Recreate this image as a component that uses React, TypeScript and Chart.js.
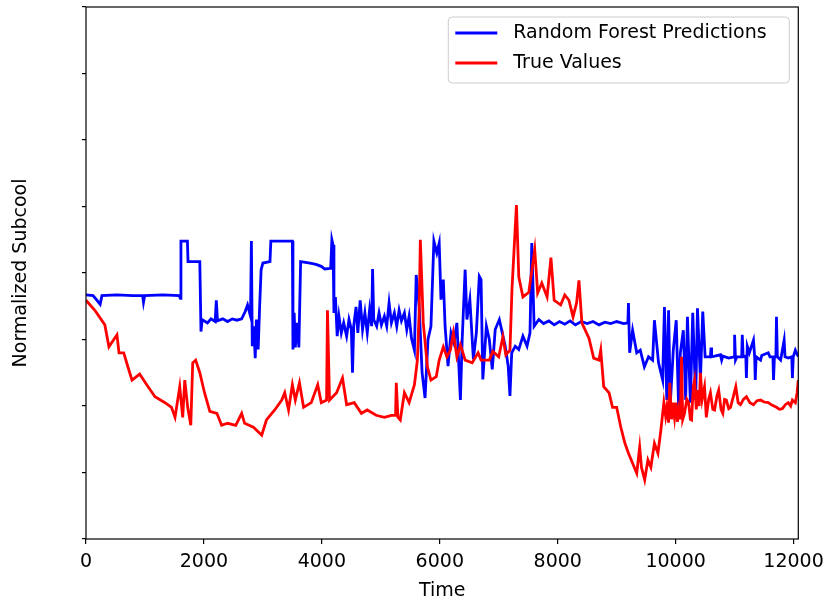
import React, { useEffect, useRef } from 'react'
import Chart from 'chart.js/auto'

// Random Forest predictions (time, normalized subcool)
const predTime = [
    0, 120, 240, 270, 520, 800, 960, 975, 995, 1300, 1580, 1600, 1610, 1720, 1730, 1930, 1950, 1970, 2060, 2120,
    2190, 2210, 2230, 2320, 2400, 2480, 2560, 2640, 2700, 2740, 2790, 2805, 2820, 2845, 2870, 2890, 2920, 2945, 2970, 3000,
    3120, 3135, 3500, 3510, 3530, 3550, 3580, 3610, 3640, 3800, 3900, 3990, 4050, 4150, 4170, 4190, 4205, 4230, 4260, 4290,
    4330, 4370, 4420, 4460, 4500, 4520, 4540, 4580, 4610, 4650, 4690, 4730, 4770, 4810, 4845, 4860, 4880, 4930, 4970, 5010,
    5060, 5100, 5140, 5180, 5230, 5270, 5310, 5350, 5400, 5440, 5480, 5520, 5570, 5600, 5650, 5700, 5750, 5800, 5850, 5900,
    5950, 5990, 6020, 6060, 6090, 6140, 6190, 6240, 6290, 6350, 6380, 6430, 6460, 6510, 6570, 6620, 6670, 6700, 6730, 6790,
    6840, 6890, 6940, 7010, 7060, 7110, 7160, 7190, 7220, 7280, 7340, 7410, 7480, 7530, 7560, 7600, 7680, 7760, 7850, 7940,
    8030, 8120, 8210, 8300, 8400, 8500, 8600, 8700, 8800, 8900, 9000, 9120, 9190, 9200, 9220, 9270, 9340, 9400, 9470, 9540,
    9610, 9640, 9710, 9780, 9810, 9850, 9880, 9910, 9960, 10010, 10050, 10080, 10130, 10170, 10200, 10250, 10290, 10340, 10370, 10420,
    10460, 10500, 10590, 10600, 10610, 10760, 10780, 10800, 10900, 10990, 11000, 11015, 11040, 11120, 11130, 11145, 11190, 11200, 11215, 11250,
    11320, 11340, 11350, 11365, 11440, 11460, 11570, 11600, 11650, 11660, 11675, 11700, 11710, 11725, 11780, 11840, 11855, 11910, 11970, 11980,
    11995, 12030, 12080
]
const predValues = [
    3.67, 3.66, 3.53, 3.66, 3.67, 3.66, 3.66, 3.56, 3.66, 3.67, 3.66, 3.62, 4.48, 4.48, 4.17, 4.17, 3.12, 3.30, 3.25, 3.31,
    3.27, 3.59, 3.28, 3.31, 3.27, 3.31, 3.29, 3.31, 3.42, 3.52, 3.35, 4.48, 2.90, 3.20, 2.72, 3.30, 2.85, 3.50, 4.05, 4.15,
    4.17, 4.48, 4.48, 2.85, 3.40, 2.88, 3.25, 2.88, 4.17, 4.15, 4.13, 4.10, 4.06, 4.07, 4.50, 4.42, 3.40, 3.64, 3.05, 3.35,
    3.10, 3.25, 3.05, 3.30, 3.15, 2.50, 3.20, 3.49, 3.10, 3.59, 3.15, 3.40, 3.10, 3.45, 3.20, 4.06, 3.30, 3.20, 3.40, 3.22,
    3.35, 3.20, 3.55, 3.25, 3.40, 3.20, 3.44, 3.28, 3.40, 3.15, 3.35, 3.02, 2.84, 3.97, 3.50, 2.50, 2.12, 3.00, 3.20, 4.48,
    4.30, 4.45, 3.60, 3.90, 3.20, 2.60, 3.10, 2.95, 3.25, 2.09, 3.00, 4.05, 3.30, 3.60, 2.70, 3.10, 3.95, 3.90, 2.40, 3.20,
    3.00, 2.55, 3.15, 3.30, 3.10, 2.90, 2.60, 2.15, 2.80, 2.90, 2.85, 3.05, 2.90, 3.10, 4.45, 3.20, 3.30, 3.24, 3.28, 3.22,
    3.27, 3.23, 3.28, 3.22, 3.27, 3.24, 3.27, 3.22, 3.26, 3.24, 3.27, 3.24, 3.25, 3.55, 2.80, 3.14, 2.80, 2.84, 2.59, 2.74,
    2.69, 3.29, 2.65, 2.39, 3.49, 2.09, 3.44, 2.05, 2.84, 3.29, 1.98, 2.80, 3.14, 2.09, 3.34, 2.05, 3.40, 2.09, 3.47, 2.39,
    3.42, 2.74, 2.74, 2.88, 2.74, 2.77, 2.69, 2.75, 2.72, 2.74, 3.07, 2.69, 2.74, 2.74, 3.07, 2.74, 2.75, 2.42, 2.90, 2.80,
    2.99, 2.74, 2.39, 2.74, 2.69, 2.76, 2.80, 2.74, 2.74, 2.39, 2.74, 2.74, 3.34, 2.74, 2.69, 2.99, 2.74, 2.72, 2.74, 2.42,
    2.74, 2.84, 2.74
]

// True values (time, normalized subcool)
const trueTime = [
    0, 150, 320, 389, 525, 560, 640, 710, 780, 910, 1030, 1170, 1340, 1450, 1510, 1590, 1640, 1675, 1725, 1777,
    1810, 1860, 1930, 2010, 2100, 2220, 2300, 2400, 2540, 2640, 2690, 2840, 2980, 3060, 3200, 3320, 3370, 3435, 3500, 3550,
    3620, 3690, 3820, 3930, 3990, 4080, 4095, 4130, 4250, 4350, 4420, 4550, 4670, 4770, 4920, 5060, 5180, 5250, 5262, 5290,
    5330, 5400, 5480, 5570, 5620, 5650, 5670, 5720, 5790, 5850, 5940, 5990, 6060, 6120, 6180, 6230, 6290, 6350, 6430, 6550,
    6650, 6700, 6840, 6900, 7000, 7070, 7120, 7190, 7225, 7300, 7340, 7410, 7510, 7610, 7660, 7730, 7820, 7885, 7940, 8050,
    8120, 8190, 8260, 8320, 8360, 8410, 8530, 8610, 8700, 8730, 8780, 8870, 8930, 9000, 9070, 9140, 9200, 9270, 9340, 9390,
    9420, 9475, 9530, 9580, 9640, 9700, 9750, 9800, 9830, 9850, 9880, 9900, 9930, 9950, 9980, 10000, 10030, 10050, 10080, 10100,
    10120, 10150, 10190, 10220, 10250, 10270, 10300, 10320, 10350, 10370, 10400, 10420, 10450, 10490, 10520, 10560, 10590, 10630, 10660, 10700,
    10730, 10770, 10800, 10830, 10860, 10900, 10930, 10980, 11020, 11060, 11100, 11150, 11200, 11260, 11320, 11380, 11440, 11500, 11570, 11640,
    11710, 11760, 11810, 11860, 11910, 11950, 11980, 12030, 12060, 12080
]
const trueValues = [
    3.59, 3.44, 3.22, 2.89, 3.07, 2.80, 2.80, 2.59, 2.39, 2.48, 2.32, 2.14, 2.05, 1.98, 1.83, 2.29, 1.83, 2.39, 1.98, 1.71,
    2.65, 2.69, 2.50, 2.20, 1.92, 1.89, 1.71, 1.74, 1.71, 1.89, 1.74, 1.68, 1.56, 1.79, 1.94, 2.09, 2.20, 1.94, 2.32, 2.09,
    2.35, 1.98, 2.05, 2.32, 2.05, 2.09, 3.44, 2.09, 2.20, 2.42, 2.02, 2.05, 1.89, 1.94, 1.86, 1.83, 1.86, 1.86, 2.35, 1.83,
    1.79, 2.20, 2.05, 2.32, 2.69, 3.40, 4.50, 3.25, 2.59, 2.39, 2.44, 2.69, 2.89, 2.74, 2.84, 3.10, 2.74, 2.92, 2.69, 2.65,
    2.80, 2.69, 2.69, 2.82, 2.74, 3.04, 2.77, 2.84, 3.77, 5.02, 3.94, 3.64, 3.71, 4.35, 3.70, 3.85, 3.64, 4.23, 3.59, 3.52,
    3.67, 3.59, 3.34, 3.55, 3.89, 3.25, 3.02, 2.72, 2.69, 2.84, 2.29, 2.20, 1.98, 1.98, 1.68, 1.44, 1.29, 1.14, 0.99, 1.38,
    1.08, 0.89, 1.19, 1.08, 1.44, 1.29, 1.64, 2.05, 1.85, 1.98, 1.75, 2.35, 1.80, 2.05, 1.83, 2.05, 1.76, 1.95, 1.80, 2.74,
    1.80, 1.89, 2.10, 2.05, 1.80, 1.79, 2.30, 2.39, 1.95, 2.24, 2.00, 2.50, 2.10, 2.29, 1.83, 2.10, 2.20, 1.95, 1.94, 2.15,
    2.24, 1.95, 1.89, 2.10, 2.09, 1.96, 1.98, 2.15, 2.29, 2.05, 2.02, 2.10, 2.14, 2.05, 2.02, 2.08, 2.09, 2.06, 2.05, 2.01,
    1.98, 1.95, 1.96, 2.02, 2.05, 2.00, 2.09, 2.05, 2.20, 2.39
]

const seriesLabels = ['Random Forest Predictions', 'True Values']
const seriesColors = ['#0000ff', '#ff0000']

// axis ticks (y labels are hidden in the original)
const xTickValues = [0, 2000, 4000, 6000, 8000, 10000, 12000]
const yTickValues = [0, 1, 2, 3, 4, 5, 6, 7, 8]

const FONT = 'DejaVu Sans'

// matplotlib style frame + legend box in the upper right corner
const frameAndLegend = {
    id: 'frameAndLegend',
    afterDraw(chart: any) {
        const { ctx, chartArea: a } = chart
        ctx.save()
        ctx.strokeStyle = '#000'
        ctx.lineWidth = 1.2
        ctx.strokeRect(a.left, a.top, a.right - a.left, a.bottom - a.top)

        const boxW = 341
        const boxH = 66
        const bx = a.right - 9 - boxW
        const by = a.top + 10
        ctx.beginPath()
        ctx.roundRect(bx, by, boxW, boxH, 4)
        ctx.fillStyle = 'rgba(255,255,255,0.8)'
        ctx.fill()
        ctx.strokeStyle = '#cccccc'
        ctx.lineWidth = 1
        ctx.stroke()

        ctx.font = `19px "${FONT}"`
        ctx.textBaseline = 'middle'
        ctx.textAlign = 'left'
        chart.data.datasets.forEach((ds: any, i: number) => {
            const y = by + 16 + i * 30
            ctx.strokeStyle = ds.borderColor
            ctx.lineWidth = 2.8
            ctx.beginPath()
            ctx.moveTo(bx + 7, y)
            ctx.lineTo(bx + 49, y)
            ctx.stroke()
            ctx.fillStyle = '#000'
            ctx.fillText(ds.label, bx + 65, y)
        })
        ctx.restore()
    }
}

const App: React.FC = () => {
    const chartRef = useRef<HTMLCanvasElement>(null)
    const chartInstance = useRef<Chart | null>(null)

    useEffect(() => {
        if (!chartRef.current) return
        const ctx = chartRef.current.getContext('2d')
        if (!ctx) return
        if (chartInstance.current) chartInstance.current.destroy()

        chartInstance.current = new Chart(ctx, {
            type: 'line',
            data: {
                datasets: [
                    {
                        label: seriesLabels[0],
                        data: predTime.map((t, i) => ({ x: t, y: predValues[i] })),
                        borderColor: seriesColors[0],
                        borderWidth: 2.8,
                        pointRadius: 0,
                        tension: 0,
                        fill: false,
                        order: 2
                    },
                    {
                        label: seriesLabels[1],
                        data: trueTime.map((t, i) => ({ x: t, y: trueValues[i] })),
                        borderColor: seriesColors[1],
                        borderWidth: 2.8,
                        pointRadius: 0,
                        tension: 0,
                        fill: false,
                        order: 1
                    }
                ]
            },
            options: {
                animation: false,
                responsive: true,
                maintainAspectRatio: false,
                layout: { padding: { top: 7, right: 31, bottom: 0, left: 0 } },
                plugins: {
                    legend: { display: false },
                    tooltip: { enabled: false }
                },
                scales: {
                    x: {
                        type: 'linear',
                        min: 0,
                        max: 12080,
                        afterBuildTicks: (scale: any) => { scale.ticks = xTickValues.map(v => ({ value: v })) },
                        afterFit: (scale: any) => { scale.height = 67 },
                        border: { display: false },
                        grid: { drawOnChartArea: false, drawTicks: true, tickLength: 5, color: '#000', lineWidth: 1.2 },
                        ticks: {
                            autoSkip: false,
                            padding: 7,
                            maxRotation: 0,
                            color: '#000',
                            font: { family: FONT, size: 19 },
                            callback: (v: any) => String(v)
                        },
                        title: {
                            display: true,
                            text: 'Time',
                            color: '#000',
                            font: { family: FONT, size: 19 },
                            padding: { top: 0, bottom: 4 }
                        }
                    },
                    y: {
                        min: 0,
                        max: 8,
                        afterBuildTicks: (scale: any) => { scale.ticks = yTickValues.map(v => ({ value: v })) },
                        afterFit: (scale: any) => { scale.width = 86 },
                        border: { display: false },
                        grid: { drawOnChartArea: false, drawTicks: true, tickLength: 4, color: '#000', lineWidth: 1.2 },
                        ticks: { display: false },
                        title: {
                            display: true,
                            text: 'Normalized Subcool',
                            color: '#000',
                            font: { family: FONT, size: 19 },
                            padding: { top: 10, bottom: 0 }
                        }
                    }
                }
            },
            plugins: [frameAndLegend]
        })

        return () => {
            if (chartInstance.current) {
                chartInstance.current.destroy()
                chartInstance.current = null
            }
        }
    }, [])

    return (
        <div style={{ position: 'fixed', left: 0, top: 0, width: '831px', height: '606px', background: '#fff' }}>
            <canvas ref={chartRef}></canvas>
        </div>
    )
}

export default App
